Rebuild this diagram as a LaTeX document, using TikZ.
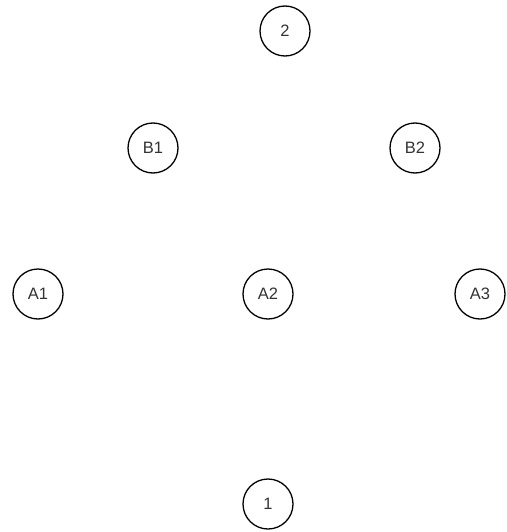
\documentclass[tikz,border=0pt]{standalone}
\usepackage{fontspec}
\setmainfont{Liberation Sans}
\definecolor{txt}{HTML}{333333}
\begin{document}
\begin{tikzpicture}[x=1pt,y=-1pt,
  nd/.style={circle,draw=black,line width=1.3pt,minimum size=50pt,inner sep=0pt,
    text=txt,font=\fontsize{16.5}{18}\selectfont}]
\useasboundingbox (0,0) rectangle (506,532);
\node[nd] (n2) at (285,31) {2};
\node[nd] (b1) at (153,148) {B1};
\node[nd] (b2) at (415,148) {B2};
\node[nd] (a1) at (38,294) {A1};
\node[nd] (a2) at (268,294) {A2};
\node[nd] (a3) at (480,294) {A3};
\node[nd] (n1) at (268,504) {1};
\end{tikzpicture}
\end{document}
